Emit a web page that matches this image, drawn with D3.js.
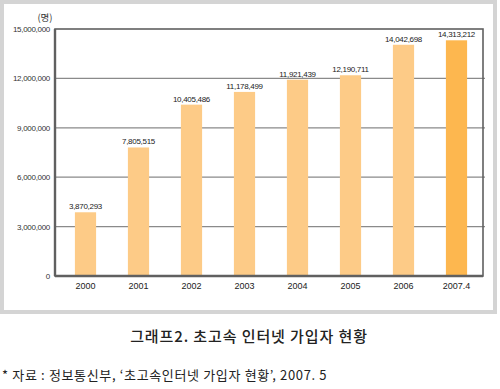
<!DOCTYPE html>
<html>
<head>
<meta charset="utf-8">
<script src="https://cdn.jsdelivr.net/npm/d3@7"></script>
<style>
  body { margin: 0; background: #fff; }
  svg { display: block; }
</style>
</head>
<body>
<svg id="chart" width="500" height="389"></svg>
<script>
"use strict"

// Data
const years = ["2000", "2001", "2002", "2003", "2004", "2005", "2006", "2007.4"]
const subscribers = [3870293, 7805515, 10405486, 11178499, 11921439, 12190711, 14042698, 14313212]
const yTicks = [0, 3000000, 6000000, 9000000, 12000000, 15000000]
const unitLabel = "(명)"
const titleText = "그래프2. 초고속 인터넷 가입자 현황"
const sourceText = "* 자료 : 정보통신부, ‘초고속인터넷 가입자 현황’, 2007. 5"

const svg = d3.select("#chart")

// Outer gray frame with white panel
svg.append("rect").attr("x", 0).attr("y", 0).attr("width", 497).attr("height", 314).attr("fill", "#d4d4d4")
svg.append("rect").attr("x", 4).attr("y", 4).attr("width", 489).attr("height", 306).attr("fill", "#fff")

const plot = {left: 55, right: 483, top: 29, bottom: 276}

const x = d3.scaleBand()
    .domain(years)
    .range([59, 483])
    .paddingInner(0.6)
    .paddingOuter(0.3)

const y = d3.scaleLinear()
    .domain([0, 15000000])
    .range([plot.bottom, plot.top])

const fmt = d3.format(",")
const numFont = "'Liberation Sans', Arial, sans-serif"
const krFont = "'Noto Sans CJK KR', sans-serif"

// Gridlines
svg.append("g")
    .selectAll("line")
    .data(yTicks.filter(d => d > 0 && d < 15000000))
    .join("line")
    .attr("x1", plot.left)
    .attr("x2", plot.right + 2)
    .attr("y1", d => y(d))
    .attr("y2", d => y(d))
    .attr("stroke", "#8a8a8a")
    .attr("stroke-width", 1.2)

// Y axis labels
const yAxis = d3.axisLeft(y).tickValues(yTicks).tickFormat(fmt).tickSize(0).tickPadding(4)
const gy = svg.append("g").attr("transform", `translate(${plot.left - 1},0)`).call(yAxis)
gy.select(".domain").remove()
gy.selectAll("text")
    .attr("font-family", numFont)
    .attr("font-size", 8)
    .attr("letter-spacing", -0.3)
    .attr("fill", "#333")

svg.append("text")
    .attr("x", 45)
    .attr("y", 21)
    .attr("text-anchor", "middle")
    .attr("font-family", krFont)
    .attr("font-size", 9.5)
    .attr("fill", "#333")
    .text(unitLabel)

// Bars
svg.append("g")
    .selectAll("rect")
    .data(subscribers)
    .join("rect")
    .attr("x", (d, i) => x(years[i]))
    .attr("width", x.bandwidth())
    .attr("y", d => y(d))
    .attr("height", d => y(0) - y(d))
    .attr("fill", (d, i) => i === years.length - 1 ? "#fdb74f" : "#fdcb87")

// Value labels
svg.append("g")
    .selectAll("text")
    .data(subscribers)
    .join("text")
    .attr("x", (d, i) => x(years[i]) + x.bandwidth() / 2)
    .attr("y", d => y(d) - 3)
    .attr("text-anchor", "middle")
    .attr("font-family", numFont)
    .attr("font-size", 8)
    .attr("letter-spacing", -0.3)
    .attr("fill", "#222")
    .text(fmt)

// Plot frame: left/bottom axis and top/right border
svg.append("rect")
    .attr("x", plot.left)
    .attr("y", plot.top)
    .attr("width", plot.right - plot.left)
    .attr("height", plot.bottom - plot.top)
    .attr("fill", "none")
    .attr("stroke", "#606060")
    .attr("stroke-width", 1.6)

svg.append("line")
    .attr("x1", plot.left).attr("x2", plot.left)
    .attr("y1", plot.top).attr("y2", plot.bottom)
    .attr("stroke", "#606060").attr("stroke-width", 2.4)
svg.append("line")
    .attr("x1", plot.left).attr("x2", plot.right)
    .attr("y1", plot.bottom).attr("y2", plot.bottom)
    .attr("stroke", "#606060").attr("stroke-width", 2.4)

// X axis labels
const xAxis = d3.axisBottom(x).tickSize(0).tickPadding(7)
const gx = svg.append("g").attr("transform", `translate(0,${plot.bottom})`).call(xAxis)
gx.select(".domain").remove()
gx.selectAll("text")
    .attr("font-family", numFont)
    .attr("font-size", 9)
    .attr("fill", "#222")

// Caption
svg.append("text")
    .attr("x", 249)
    .attr("y", 342)
    .attr("text-anchor", "middle")
    .attr("font-family", krFont)
    .attr("font-weight", 500)
    .attr("font-size", 15)
    .attr("letter-spacing", 0.9)
    .attr("fill", "#222")
    .text(titleText)

svg.append("text")
    .attr("x", 2)
    .attr("y", 380)
    .attr("font-family", krFont)
    .attr("font-size", 13)
    .attr("letter-spacing", 0.65)
    .attr("fill", "#222")
    .text(sourceText)
</script>
</body>
</html>
